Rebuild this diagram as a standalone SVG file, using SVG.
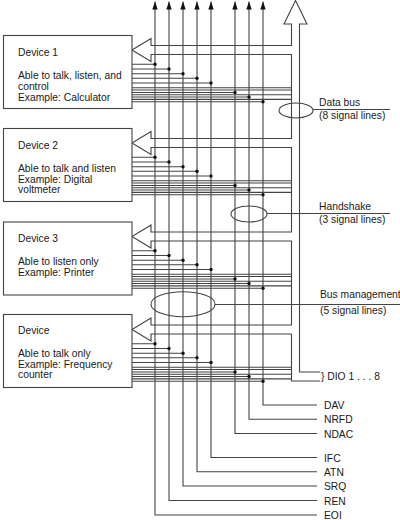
<svg xmlns="http://www.w3.org/2000/svg" width="400" height="520" viewBox="0 0 400 520">
<style>
.ln{stroke:#444;stroke-width:1.1;fill:none}
.box{fill:#fff;stroke:#444;stroke-width:1.1}
.dot{fill:#111}
text{font-family:"Liberation Sans",Arial,sans-serif;font-size:10.3px;fill:#1a1a1a}
</style>
<defs>
<marker id="ah" markerUnits="userSpaceOnUse" markerWidth="8" markerHeight="6" refX="8" refY="2.7" orient="auto-start-reverse"><path d="M0,0 L8,2.7 L0,5.4 z" fill="#111"/></marker>
</defs>
<rect width="400" height="520" fill="#fff"/>
<g id="connectors">
<path class="ln" marker-start="url(#ah)" d="M155,1.5 V515 H317"/>
<path class="ln" marker-start="url(#ah)" d="M169,1.5 V500.5 H317"/>
<path class="ln" marker-start="url(#ah)" d="M183,1.5 V486 H317"/>
<path class="ln" marker-start="url(#ah)" d="M197,1.5 V471.8 H317"/>
<path class="ln" marker-start="url(#ah)" d="M211,1.5 V457.5 H317"/>
<path class="ln" marker-start="url(#ah)" d="M235,1.5 V433.5 H317"/>
<path class="ln" marker-start="url(#ah)" d="M249,1.5 V419.3 H317"/>
<path class="ln" marker-start="url(#ah)" d="M263,1.5 V405 H317"/>
<path class="ln" d="M320,372 H299.5 V24 H307 L295.5,0.5 L284,24 H291.5 V45.5 H151 V38.5 L132,50 L151,61.5 V54.5 H291.5 V138.5 H151 V131.5 L132,143 L151,154.5 V147.5 H291.5 V232 H151 V225 L132,236.5 L151,248 V241 H291.5 V325 H151 V318 L132,329.5 L151,341 V334 H291.5 V381 H320"/>
<g id="links1">
<path class="ln" d="M132,64.3 H155 M132,69 H169 M132,73.7 H183 M132,78.3 H197 M132,83 H211 M132,87.7 H291.5 M132,90 H291.5 M132,92.5 H235 M132,94.8 H291.5 M132,97 H249 M132,99.4 H291.5 M132,101.7 H263"/>
<circle class="dot" cx="155" cy="64.3" r="1.7"/><circle class="dot" cx="169" cy="69" r="1.7"/><circle class="dot" cx="183" cy="73.7" r="1.7"/><circle class="dot" cx="197" cy="78.3" r="1.7"/><circle class="dot" cx="211" cy="83" r="1.7"/><circle class="dot" cx="235" cy="92.5" r="1.7"/><circle class="dot" cx="249" cy="97" r="1.7"/><circle class="dot" cx="263" cy="101.7" r="1.7"/>
</g>
<g id="links2" transform="translate(0,93)">
<path class="ln" d="M132,64.3 H155 M132,69 H169 M132,73.7 H183 M132,78.3 H197 M132,83 H211 M132,87.7 H291.5 M132,90 H291.5 M132,92.5 H235 M132,94.8 H291.5 M132,97 H249 M132,99.4 H291.5 M132,101.7 H263"/>
<circle class="dot" cx="155" cy="64.3" r="1.7"/><circle class="dot" cx="169" cy="69" r="1.7"/><circle class="dot" cx="183" cy="73.7" r="1.7"/><circle class="dot" cx="197" cy="78.3" r="1.7"/><circle class="dot" cx="211" cy="83" r="1.7"/><circle class="dot" cx="235" cy="92.5" r="1.7"/><circle class="dot" cx="249" cy="97" r="1.7"/><circle class="dot" cx="263" cy="101.7" r="1.7"/>
</g>
<g id="links3" transform="translate(0,186.5)">
<path class="ln" d="M132,64.3 H155 M132,69 H169 M132,73.7 H183 M132,78.3 H197 M132,83 H211 M132,87.7 H291.5 M132,90 H291.5 M132,92.5 H235 M132,94.8 H291.5 M132,97 H249 M132,99.4 H291.5 M132,101.7 H263"/>
<circle class="dot" cx="155" cy="64.3" r="1.7"/><circle class="dot" cx="169" cy="69" r="1.7"/><circle class="dot" cx="183" cy="73.7" r="1.7"/><circle class="dot" cx="197" cy="78.3" r="1.7"/><circle class="dot" cx="211" cy="83" r="1.7"/><circle class="dot" cx="235" cy="92.5" r="1.7"/><circle class="dot" cx="249" cy="97" r="1.7"/><circle class="dot" cx="263" cy="101.7" r="1.7"/>
</g>
<g id="links4" transform="translate(0,279.5)">
<path class="ln" d="M132,64.3 H155 M132,69 H169 M132,73.7 H183 M132,78.3 H197 M132,83 H211 M132,87.7 H291.5 M132,90 H291.5 M132,92.5 H235 M132,94.8 H291.5 M132,97 H249 M132,99.4 H291.5 M132,101.7 H263"/>
<circle class="dot" cx="155" cy="64.3" r="1.7"/><circle class="dot" cx="169" cy="69" r="1.7"/><circle class="dot" cx="183" cy="73.7" r="1.7"/><circle class="dot" cx="197" cy="78.3" r="1.7"/><circle class="dot" cx="211" cy="83" r="1.7"/><circle class="dot" cx="235" cy="92.5" r="1.7"/><circle class="dot" cx="249" cy="97" r="1.7"/><circle class="dot" cx="263" cy="101.7" r="1.7"/>
</g>
<path class="ln" d="M313,109.5 H390 M267,213.5 H390 M215,304.5 H400"/>
</g>
<g id="device1">
<rect class="box" x="3.5" y="35.5" width="128.5" height="73"/>
<text x="18" y="56">Device 1</text>
<text x="18" y="79.3">Able to talk, listen, and</text>
<text x="18" y="90">control</text>
<text x="18" y="100.5">Example: Calculator</text>
</g>
<g id="device2">
<rect class="box" x="3.5" y="128.5" width="128.5" height="73"/>
<text x="18" y="148.8">Device 2</text>
<text x="18" y="172">Able to talk and listen</text>
<text x="18" y="182.5">Example: Digital</text>
<text x="18" y="193">voltmeter</text>
</g>
<g id="device3">
<rect class="box" x="3.5" y="222" width="128.5" height="73"/>
<text x="18" y="242">Device 3</text>
<text x="18" y="265.3">Able to listen only</text>
<text x="18" y="275.8">Example: Printer</text>
</g>
<g id="device4">
<rect class="box" x="3.5" y="314.5" width="128.5" height="73"/>
<text x="18" y="334">Device</text>
<text x="18" y="357">Able to talk only</text>
<text x="18" y="367.5">Example: Frequency</text>
<text x="18" y="378">counter</text>
</g>
<g id="databus">
<ellipse class="ln" cx="296" cy="110.5" rx="17" ry="7.5"/>
<text x="319" y="106">Data bus</text>
<text x="319" y="118.5">(8 signal lines)</text>
</g>
<g id="handshake">
<ellipse class="ln" cx="249" cy="214" rx="18" ry="8"/>
<text x="319" y="210">Handshake</text>
<text x="319" y="222.5">(3 signal lines)</text>
</g>
<g id="busmanagement">
<ellipse class="ln" cx="183" cy="304.2" rx="32" ry="12.5"/>
<text x="320" y="297.5">Bus management</text>
<text x="320" y="314">(5 signal lines)</text>
</g>
<g id="dio"><text x="321" y="379.5">} DIO 1 . . . 8</text></g>
<g id="signals">
<text x="324" y="409">DAV</text>
<text x="324" y="423.3">NRFD</text>
<text x="324" y="437.5">NDAC</text>
<text x="324" y="461.5">IFC</text>
<text x="324" y="475.8">ATN</text>
<text x="324" y="490">SRQ</text>
<text x="324" y="504.5">REN</text>
<text x="324" y="519">EOI</text>
</g>
</svg>
